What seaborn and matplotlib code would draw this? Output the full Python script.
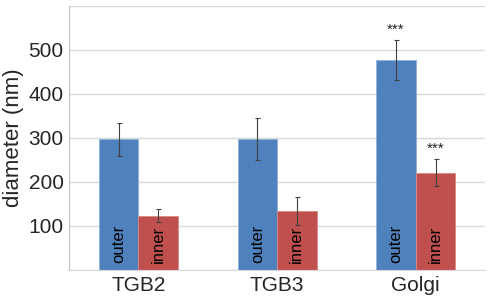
import numpy as np
import pandas as pd
import seaborn as sns
import matplotlib.pyplot as plt

categories = ['TGB2', 'TGB3', 'Golgi']
layers = ['outer', 'inner']
outerMean = [297, 297, 477]
innerMean = [123, 134, 221]
outerErr = [37, 48, 45]
innerErr = [15, 32, 31]
outerSig = ['', '', '***']
innerSig = ['', '', '***']

df = pd.DataFrame({
    'category': categories * 2,
    'layer': ['outer'] * 3 + ['inner'] * 3,
    'diameter': outerMean + innerMean,
    'err': outerErr + innerErr,
    'sig': outerSig + innerSig,
})

sns.set_style('white')
plt.rcParams['font.family'] = ['Liberation Sans', 'DejaVu Sans']

fig = plt.figure(figsize=(4.9, 2.99), dpi=100)
ax = fig.add_axes([0.141, 0.097, 0.849, 0.883])

sns.barplot(data=df, x='category', y='diameter', hue='layer', hue_order=layers,
            palette={'outer': '#4F81BD', 'inner': '#C0504D'}, width=0.57,
            saturation=1, errorbar=None, legend=False, ax=ax, zorder=2)

# error bars, labels and stars from the bar patches
for container, layer in zip(ax.containers, layers):
    sub = df[df.layer == layer].set_index('category').loc[categories]
    for patch, (_, row) in zip(container.patches, sub.iterrows()):
        cx = patch.get_x() + patch.get_width() / 2
        h = patch.get_height()
        patch.set_edgecolor('#8FB0D8' if layer == 'outer' else '#D98886')
        patch.set_linewidth(0.6)
        ax.errorbar(cx, h, yerr=row['err'], color='#404040', lw=0.8,
                    capsize=1.8, capthick=0.8, zorder=3)
        ax.text(cx, 15, layer, rotation=90, ha='center', va='bottom',
                fontsize=12, color='black', zorder=4)
        if row['sig']:
            ax.text(cx, h + row['err'] + 8, row['sig'], ha='center',
                    va='bottom', fontsize=11, color='#202020', zorder=4)

ax.set_ylim(0, 600)
ax.set_xlim(-0.5, 2.5)
ax.set_yticks([0, 100, 200, 300, 400, 500, 600])
ax.set_yticklabels(['', '100', '200', '300', '400', '500', ''])
ax.yaxis.grid(True, color='#D9D9D9', lw=1, zorder=0)
ax.set_axisbelow(True)
ax.set_xticks([0, 1, 2])
ax.set_xticks([0.5, 1.5], minor=True)
ax.tick_params(axis='x', which='major', length=0, labelsize=15, pad=4)
ax.tick_params(axis='x', which='minor', length=2, color='#BFBFBF')
ax.tick_params(axis='y', length=0, labelsize=15, pad=4)
ax.set_xlabel('')
ax.set_ylabel('diameter (nm)', fontsize=16, labelpad=3)

for side in ['top', 'right']:
    ax.spines[side].set_visible(False)
ax.spines['left'].set_color('#BFBFBF')
ax.spines['bottom'].set_color('#D9D9D9')

fig.savefig('out.png', dpi=100)
